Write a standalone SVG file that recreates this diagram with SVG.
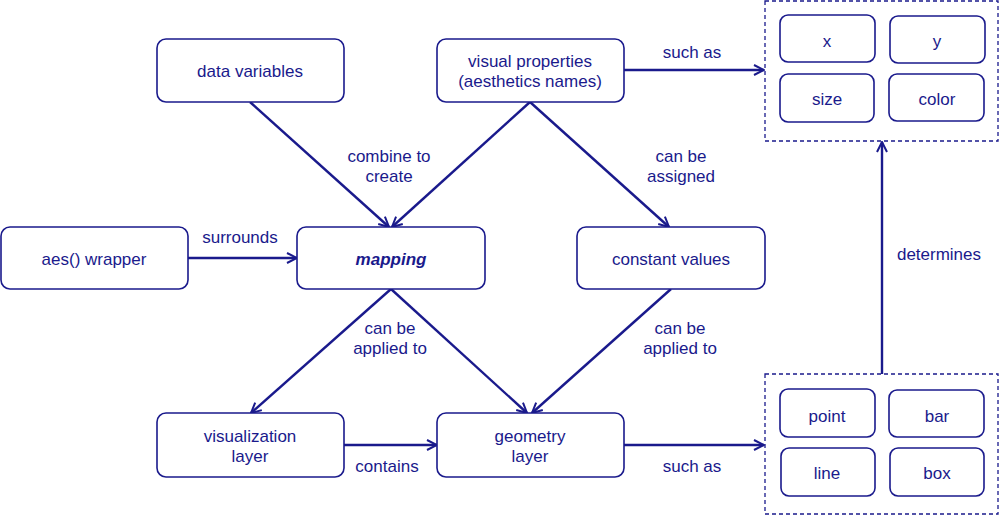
<svg xmlns="http://www.w3.org/2000/svg" width="1000" height="516" viewBox="0 0 1000 516">
<defs>
<style>
.n rect{fill:#fff;stroke:#1a1a8c;stroke-width:1.6}
.c{fill:none;stroke:#1a1a8c;stroke-width:2.4;marker-end:url(#a)}
.d{fill:none;stroke:#1a1a8c;stroke-width:1.3;stroke-dasharray:4 3}
text{font-family:"Liberation Sans",Arial,sans-serif;font-size:17px;fill:#1a1a8c;text-anchor:middle;dominant-baseline:central}
</style>
<marker id="a" viewBox="0 0 12 12" refX="11" refY="6" markerWidth="12" markerHeight="12" markerUnits="userSpaceOnUse" orient="auto">
<path d="M1,1 L11,6 L1,11" fill="none" stroke="#1a1a8c" stroke-width="2"/>
</marker>
</defs>
<rect width="1000" height="516" fill="#fff"/>
<g id="connectors">
<path class="c" d="M250,102 L389,227"/>
<path class="c" d="M530,102 L392,227"/>
<path class="c" d="M530,102 L669,227"/>
<path class="c" d="M188,258 L297,258"/>
<path class="c" d="M624,70 L764,70"/>
<path class="c" d="M391,289 L251,413"/>
<path class="c" d="M391,289 L527,413"/>
<path class="c" d="M671,289 L532,413"/>
<path class="c" d="M344,445 L437,445"/>
<path class="c" d="M624,445 L764,445"/>
<path class="c" d="M882,374 L882,142"/>
<text x="389" y="156">combine to</text>
<text x="389" y="176">create</text>
<text x="681" y="156">can be</text>
<text x="681" y="176">assigned</text>
<text x="240" y="237">surrounds</text>
<text x="692" y="52">such as</text>
<text x="390" y="328">can be</text>
<text x="390" y="348">applied to</text>
<text x="680" y="328">can be</text>
<text x="680" y="348">applied to</text>
<text x="387" y="466">contains</text>
<text x="692" y="466">such as</text>
<text x="939" y="254">determines</text>
</g>
<g id="data-variables" class="n"><rect x="157" y="39" width="187" height="63" rx="9"/><text x="250" y="71">data variables</text></g>
<g id="visual-properties" class="n"><rect x="437" y="39" width="187" height="63" rx="9"/><text x="530" y="61">visual properties</text><text x="530" y="81">(aesthetics names)</text></g>
<g id="aes-wrapper" class="n"><rect x="1" y="227" width="187" height="62" rx="9"/><text x="94" y="259">aes() wrapper</text></g>
<g id="mapping" class="n"><rect x="297" y="227" width="188" height="62" rx="9"/><text x="391" y="259" font-weight="bold" font-style="italic">mapping</text></g>
<g id="constant-values" class="n"><rect x="577" y="227" width="188" height="62" rx="9"/><text x="671" y="259">constant values</text></g>
<g id="visualization-layer" class="n"><rect x="157" y="413" width="187" height="64" rx="9"/><text x="250" y="436">visualization</text><text x="250" y="456">layer</text></g>
<g id="geometry-layer" class="n"><rect x="437" y="413" width="187" height="64" rx="9"/><text x="530" y="436">geometry</text><text x="530" y="456">layer</text></g>
<g id="aesthetics-group">
<rect class="d" x="765" y="1" width="233" height="140"/>
<g id="x" class="n"><rect x="780" y="15" width="95" height="47" rx="8"/><text x="827" y="41">x</text></g>
<g id="y" class="n"><rect x="890" y="16" width="95" height="47" rx="8"/><text x="937" y="41">y</text></g>
<g id="size" class="n"><rect x="780" y="74" width="94" height="48" rx="8"/><text x="827" y="99">size</text></g>
<g id="color" class="n"><rect x="889" y="74" width="95" height="47" rx="8"/><text x="937" y="99">color</text></g>
</g>
<g id="geoms-group">
<rect class="d" x="765" y="374" width="233" height="140"/>
<g id="point" class="n"><rect x="780" y="389" width="95" height="48" rx="8"/><text x="827" y="416">point</text></g>
<g id="bar" class="n"><rect x="889" y="390" width="95" height="47" rx="8"/><text x="937" y="416">bar</text></g>
<g id="line" class="n"><rect x="781" y="448" width="94" height="48" rx="8"/><text x="827" y="473">line</text></g>
<g id="box" class="n"><rect x="890" y="448" width="94" height="48" rx="8"/><text x="937" y="473">box</text></g>
</g>
</svg>
